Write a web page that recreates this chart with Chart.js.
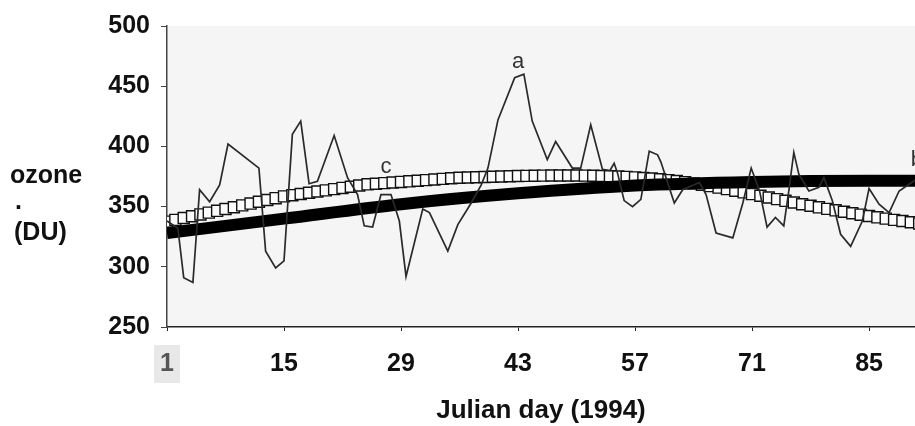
<!DOCTYPE html>
<html>
<head>
<meta charset="utf-8">
<script src="https://cdn.jsdelivr.net/npm/chart.js@4"></script>
<style>
  html, body { margin: 0; padding: 0; background: #fff; }
  #wrap { width: 915px; height: 426px; }
</style>
</head>
<body>
<div id="wrap"><canvas id="ozoneChart"></canvas></div>
<script>
// daily ozone (a)
const ozoneDays = [1, 2.3, 3, 4.1, 4.9, 6.1, 7.3, 8.3, 12, 12.8, 14, 15, 16, 17, 18, 19, 21, 22.6, 23.8, 24.6, 25.6, 26.6, 27.8, 28.8, 29.6,
  31.6, 32.4, 34.6, 35.8, 37.4, 38.6, 39.4, 40.6, 42.6, 43.7, 44.7, 46.5, 47.5, 49.5, 50.5, 51.7, 53.1, 54, 54.5, 54.9, 55.7, 56.7,
  57.7, 58.7, 59.7, 60.1, 61.7, 62.7, 64.7, 65.5, 66.7, 68.7, 69.9, 70.9, 71.9, 72.8, 73.8, 74.8, 75.4, 76, 76.6, 77.8, 79, 79.6,
  80.6, 81.6, 82.8, 84.2, 85, 86.2, 87.4, 88.6, 90.5];
const ozoneValues = [338, 332, 291, 287, 364, 354, 368, 402, 382, 313, 299, 305, 410, 421, 369, 371, 409, 374, 360, 334, 333, 360, 360, 338, 292,
  348, 345, 313, 335, 353, 368, 382, 422, 457, 460, 421, 389, 404, 382, 382, 418, 381, 380, 386, 378, 355, 350,
  356, 396, 393, 387, 353, 364, 370, 360, 328, 324, 353, 382, 363, 333, 341, 334, 363, 395, 377, 363, 366, 374,
  355, 327, 317, 338, 365, 352, 345, 363, 372];

// thick black curve (b)
const bDays = [1, 15, 29, 43, 57, 71, 85, 91];
const bValues = [328, 340, 352, 361, 367.5, 370.5, 371.5, 371.5];

// open-square curve (c), one square per day
const cDays = [];
for (let d = 1; d <= 91; d++) cDays.push(d);
const cValues = [337.5, 339, 340.5, 342, 343.5, 345, 346.5, 348, 349.5, 351, 352.5, 354, 355.5, 357, 358.5, 359.5, 360.5, 361.5, 362.5, 363.5,
  364.5, 365.5, 366.5, 367.5, 368.5, 369, 369.5, 370, 370.5, 371, 371.5, 372, 372.5, 373, 373.5, 374, 374.2, 374.4, 374.6, 374.8,
  375, 375.2, 375.4, 375.5, 375.6, 375.7, 375.8, 375.8, 375.8, 375.8, 375.7, 375.6, 375.4, 375.2, 375, 374.7, 374.3, 373.8, 373.3, 372.7,
  372, 371.2, 370.3, 369.3, 368.2, 367, 365.8, 364.5, 363.2, 361.8, 360.4, 359, 357.6, 356.2, 354.8, 353.4, 352, 350.7, 349.4, 348.1,
  346.9, 345.7, 344.5, 343.3, 342.2, 341.1, 340, 339, 338, 337, 336];

const xTicks = [1, 15, 29, 43, 57, 71, 85];
const curveLabels = [
  { text: 'a', day: 43, value: 470, align: 'center' },
  { text: 'b', day: 90, value: 389, align: 'left' },
  { text: 'c', day: 27.2, value: 383, align: 'center' }
];

const toPts = (xs, ys) => xs.map((x, i) => ({ x: x, y: ys[i] }));
const FONT = '"Liberation Sans", Arial, sans-serif';

const scanPlugin = {
  id: 'scan',
  beforeDraw(chart) {
    const { ctx, chartArea: a } = chart;
    ctx.save();
    ctx.fillStyle = '#f5f5f5';
    ctx.fillRect(a.left, a.top, a.right - a.left, a.bottom - a.top);
    ctx.restore();
  },
  afterDraw(chart) {
    const { ctx } = chart;
    const xs = chart.scales.x, ys = chart.scales.y;
    ctx.save();
    // y title, horizontal as in the figure
    ctx.fillStyle = '#111';
    ctx.font = 'bold 25px ' + FONT;
    ctx.textBaseline = 'middle';
    ctx.textAlign = 'left';
    ctx.fillText('ozone', 10, 176);
    ctx.fillText('.', 15, 202);
    ctx.fillText('(DU)', 14, 233);
    // curve letters
    ctx.font = '22px ' + FONT;
    ctx.fillStyle = '#333';
    curveLabels.forEach(l => {
      ctx.textAlign = l.align;
      ctx.fillText(l.text, xs.getPixelForValue(l.day), ys.getPixelForValue(l.value));
    });
    ctx.restore();
  }
};

new Chart(document.getElementById('ozoneChart'), {
  type: 'line',
  data: {
    datasets: [
      {
        label: 'a',
        data: toPts(ozoneDays, ozoneValues),
        borderColor: '#2a2a2a',
        borderWidth: 1.7,
        pointRadius: 0,
        tension: 0
      },
      {
        label: 'b',
        data: toPts(bDays, bValues),
        borderColor: '#000',
        borderWidth: 12,
        borderCapStyle: 'butt',
        pointRadius: 0,
        cubicInterpolationMode: 'monotone'
      },
      {
        label: 'c',
        data: toPts(cDays, cValues),
        showLine: false,
        pointStyle: 'rect',
        pointRadius: 7.8,
        pointBackgroundColor: '#fbfbfb',
        pointBorderColor: '#111',
        pointBorderWidth: 1.4
      }
    ]
  },
  options: {
    responsive: true,
    maintainAspectRatio: false,
    animation: false,
    layout: { autoPadding: false, padding: { top: 25, right: 0, bottom: 0, left: 0 } },
    plugins: {
      legend: { display: false },
      tooltip: { enabled: false }
    },
    scales: {
      x: {
        type: 'linear',
        min: 1,
        max: 90.5,
        afterBuildTicks: s => { s.ticks = xTicks.map(v => ({ value: v })); },
        afterFit: s => { s.height = 99; s.paddingRight = 0; },
        border: { color: '#222', width: 1.5 },
        grid: { drawOnChartArea: false, color: '#222', tickLength: 4 },
        ticks: {
          color: c => c.index === 0 ? '#555' : '#111',
          font: { family: FONT, size: 25, weight: 'bold' },
          padding: 18,
          maxRotation: 0,
          showLabelBackdrop: c => c.index === 0,
          backdropColor: '#e8e8e8',
          backdropPadding: { x: 6, y: 4 }
        },
        title: {
          display: true,
          text: 'Julian day (1994)',
          color: '#111',
          font: { family: FONT, size: 26, weight: 'bold' },
          padding: { top: 0, bottom: 0 }
        }
      },
      y: {
        min: 250,
        max: 500,
        afterFit: s => { s.width = 167; },
        border: { color: '#444', width: 1.5 },
        grid: { drawOnChartArea: false, color: '#444', tickLength: 6 },
        ticks: {
          stepSize: 50,
          color: '#111',
          padding: 11,
          font: { family: FONT, size: 25, weight: 'bold' }
        }
      }
    }
  },
  plugins: [scanPlugin]
});
</script>
</body>
</html>
